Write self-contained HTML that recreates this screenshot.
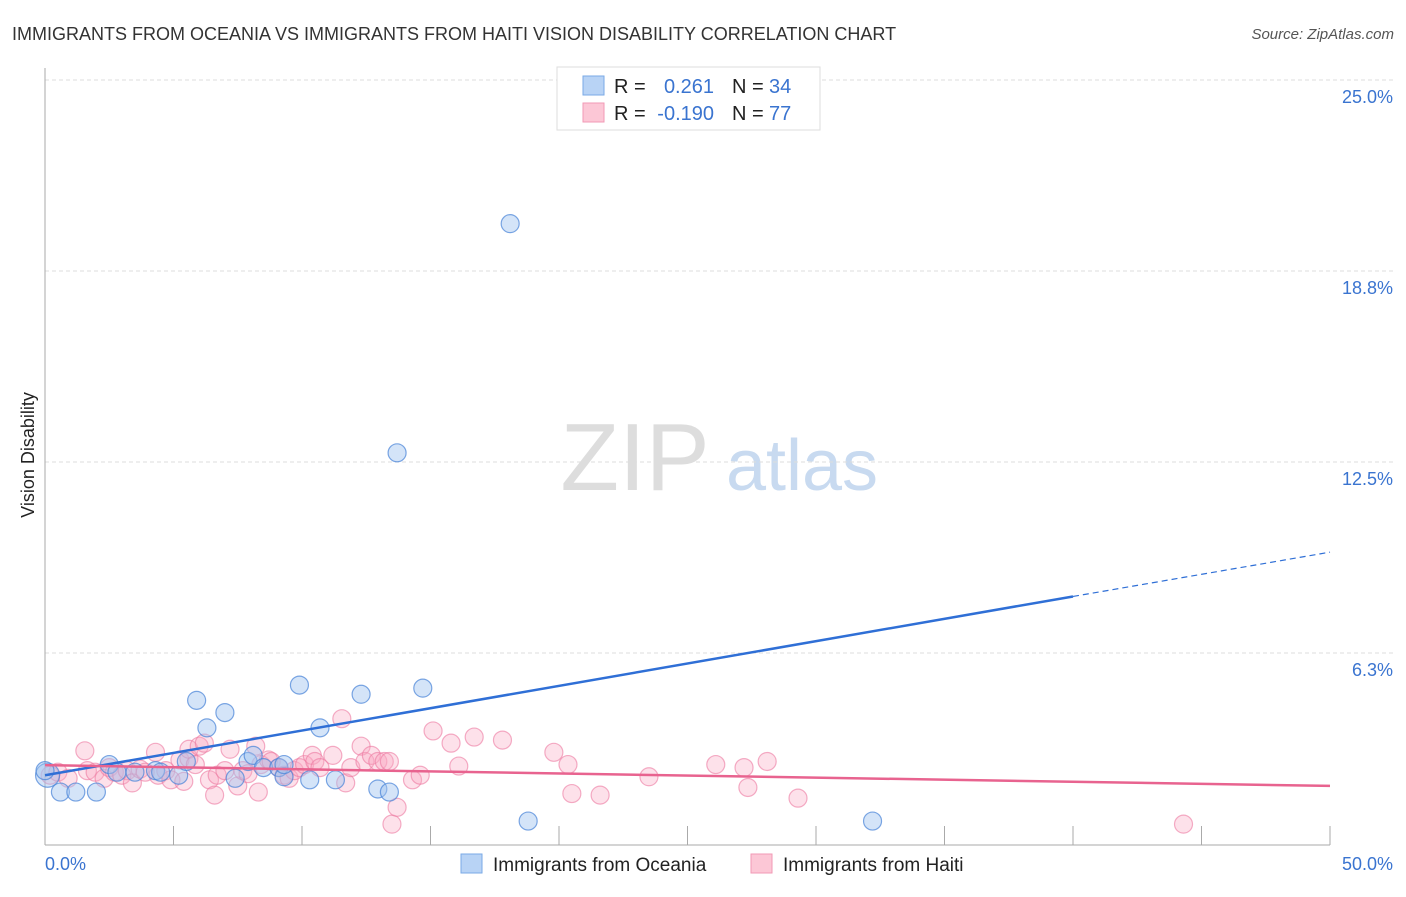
<!DOCTYPE html>
<html><head><meta charset="utf-8">
<style>
body{margin:0;background:#fff;font-family:"Liberation Sans",sans-serif;}
svg text{font-family:"Liberation Sans",sans-serif;}
</style></head>
<body>
<svg width="1406" height="892" xmlns="http://www.w3.org/2000/svg">
<text x="12" y="40" font-size="18" fill="#333">IMMIGRANTS FROM OCEANIA VS IMMIGRANTS FROM HAITI VISION DISABILITY CORRELATION CHART</text>
<text x="1394" y="39" font-size="15" fill="#555" font-style="italic" text-anchor="end">Source: ZipAtlas.com</text>
<text transform="translate(34,455) rotate(-90)" font-size="18" fill="#222" text-anchor="middle">Vision Disability</text>
<g>
<text x="635" y="490" font-size="96" font-family="Liberation Serif" fill="#ddd" text-anchor="middle">ZIP</text>
<text x="802" y="490" font-size="72" fill="#c8daf0" text-anchor="middle">atlas</text>
</g>
<g id="grid"></g>
<g id="axes"></g>
<g id="marks"></g>
<g>
<rect x="557" y="67" width="263" height="63" fill="#fff" stroke="#ddd"/>
<rect x="583" y="76" width="21" height="19" fill="#b8d3f5" stroke="#7aaae6"/>
<rect x="583" y="103" width="21" height="19" fill="#fcc7d6" stroke="#f29ab5"/>
<text x="614" y="93" font-size="20" fill="#222">R =</text>
<text x="714" y="93" font-size="20" fill="#3a74d0" text-anchor="end">0.261</text>
<text x="732" y="93" font-size="20" fill="#222">N =</text>
<text x="769" y="93" font-size="20" fill="#3a74d0">34</text>
<text x="614" y="120" font-size="20" fill="#222">R =</text>
<text x="714" y="120" font-size="20" fill="#3a74d0" text-anchor="end">-0.190</text>
<text x="732" y="120" font-size="20" fill="#222">N =</text>
<text x="769" y="120" font-size="20" fill="#3a74d0">77</text>
</g>
<g>
<rect x="461" y="854" width="21" height="19" fill="#b8d3f5" stroke="#7aaae6"/>
<text x="493" y="871" font-size="19" fill="#222">Immigrants from Oceania</text>
<rect x="751" y="854" width="21" height="19" fill="#fcc7d6" stroke="#f29ab5"/>
<text x="783" y="871" font-size="19" fill="#222">Immigrants from Haiti</text>
</g>
</svg>
<script>
const yTicks=[6.25,12.5,18.75,25];
const yTickLabels=["6.3%","12.5%","18.8%","25.0%"];
const xTickLabels=["0.0%","50.0%"];
const blueX=[0.1,0.6,1.2,2.0,2.5,2.8,3.5,4.3,4.5,5.2,5.5,5.9,6.3,7.0,7.9,8.1,8.5,9.1,9.3,9.9,10.3,10.7,11.3,12.3,12.95,13.4,14.7,18.8,32.2,13.7,18.1,7.4,0.0,9.3];
const blueY=[2.25,1.7,1.7,1.7,2.6,2.35,2.35,2.4,2.35,2.25,2.7,4.7,3.8,4.3,2.7,2.9,2.5,2.5,2.2,5.2,2.1,3.8,2.1,4.9,1.8,1.7,5.1,0.75,0.75,12.8,20.3,2.15,2.4,2.6];
const pinkX=[0.2,0.5,0.9,1.55,1.65,1.95,2.3,2.5,2.7,2.99,3.2,3.4,3.7,3.9,4.3,4.4,4.7,4.9,5.25,5.4,5.6,5.6,5.85,6.0,6.2,6.4,6.6,6.7,7.0,7.2,7.5,7.7,7.9,8.2,8.3,8.4,8.7,8.8,9.1,9.3,9.5,9.7,9.9,10.1,10.4,10.5,10.7,11.2,11.55,11.7,11.9,12.3,12.45,12.7,12.95,13.2,13.5,13.4,13.7,14.3,14.6,15.1,15.8,16.1,16.7,17.8,19.8,20.35,20.5,21.6,23.5,26.1,27.2,27.35,28.1,29.3,44.3];
const pinkY=[2.25,2.35,2.15,3.05,2.4,2.35,2.15,2.5,2.35,2.25,2.4,2.0,2.45,2.35,3.0,2.25,2.4,2.1,2.75,2.05,2.8,3.1,2.6,3.2,3.3,2.1,1.6,2.25,2.4,3.1,1.9,2.4,2.3,3.2,1.7,2.6,2.75,2.7,2.5,2.25,2.15,2.4,2.5,2.6,2.9,2.7,2.5,2.9,4.1,2.0,2.5,3.2,2.7,2.9,2.7,2.7,0.65,2.7,1.2,2.1,2.25,3.7,3.3,2.55,3.5,3.4,3.0,2.6,1.65,1.6,2.2,2.6,2.5,1.85,2.7,1.5,0.65];
const blueTrend=[[0,2.25],[40,8.1],[50,9.55]];
const pinkTrend=[[0,2.58],[50,1.9]];
const NS="http://www.w3.org/2000/svg";
const X=v=>45+v/50*1285;
const Y=v=>844-v/25*764;
function mk(t,a,p){const e=document.createElementNS(NS,t);for(const k in a)e.setAttribute(k,a[k]);p.appendChild(e);return e;}
const grid=document.getElementById('grid'),axes=document.getElementById('axes'),marks=document.getElementById('marks');
yTicks.forEach((t,i)=>{
 const l=mk('line',{x1:45,x2:1393,y1:Y(t),y2:Y(t),stroke:'#ddd','stroke-dasharray':'4,3'},grid);
 
 
 const tx=mk('text',{x:1393,y:Y(t)+23,'font-size':18,fill:'#3a74d0','text-anchor':'end'},axes);
 tx.textContent=yTickLabels[i];
 
 
});
const ya=mk('line',{x1:45,x2:45,y1:68,y2:845,stroke:'#aaa'},axes);


const xa=mk('line',{x1:45,x2:1330,y1:845,y2:845,stroke:'#aaa'},axes);


for(let k=1;k<=10;k++){const v=k*5;
 const t=mk('line',{x1:X(v),x2:X(v),y1:826,y2:845,stroke:'#aaa'},axes);
 
 }
[[0,'start',45],[50,'end',1393]].forEach((d,i)=>{
 const tx=mk('text',{x:d[2],y:870,'font-size':18,fill:'#3a74d0','text-anchor':d[1]},axes);
 tx.textContent=xTickLabels[i];
 
 });
pinkX.forEach((x,i)=>{
 const c=mk('circle',{cx:X(x),cy:Y(pinkY[i]),r:9,fill:'rgba(248,170,195,0.35)',stroke:'rgba(236,120,160,0.6)','stroke-width':1.2},marks);
 
 });
blueX.forEach((x,i)=>{
 const c=mk('circle',{cx:X(x),cy:Y(blueY[i]),r:i==0?12:9,fill:'rgba(160,195,240,0.45)',stroke:'rgba(70,130,215,0.7)','stroke-width':1.2},marks);
 
 });
const bt=mk('line',{x1:X(blueTrend[0][0]),y1:Y(blueTrend[0][1]),x2:X(blueTrend[1][0]),y2:Y(blueTrend[1][1]),stroke:'#2f6fd6','stroke-width':2.5},marks);


const bd=mk('line',{x1:X(blueTrend[1][0]),y1:Y(blueTrend[1][1]),x2:X(blueTrend[2][0]),y2:Y(blueTrend[2][1]),stroke:'#2f6fd6','stroke-width':1.2,'stroke-dasharray':'6,4'},marks);


const pt=mk('line',{x1:X(pinkTrend[0][0]),y1:Y(pinkTrend[0][1]),x2:X(pinkTrend[1][0]),y2:Y(pinkTrend[1][1]),stroke:'#e8638f','stroke-width':2.5},marks);


</script>
</body></html>
